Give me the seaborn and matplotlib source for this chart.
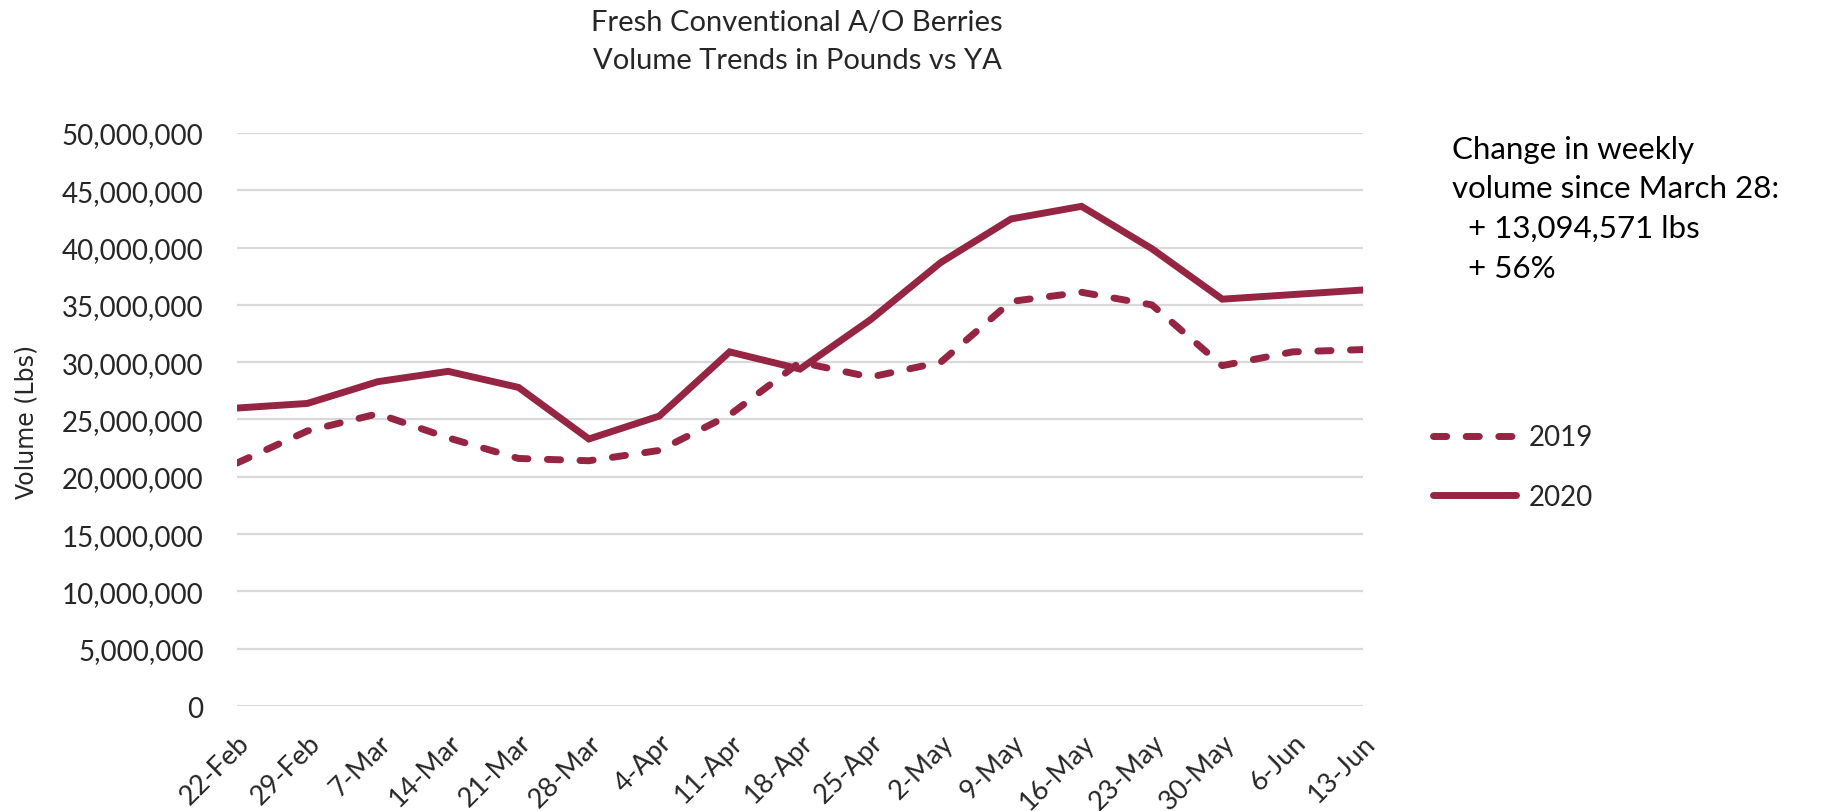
"""Fresh Conventional A/O Berries - weekly volume trends, 2019 vs 2020."""

import matplotlib
matplotlib.use("Agg")

import matplotlib.pyplot as plt
import pandas as pd
import seaborn as sns
from matplotlib.ticker import FuncFormatter


WEEKS = [
    "22-Feb", "29-Feb", "7-Mar", "14-Mar", "21-Mar", "28-Mar", "4-Apr",
    "11-Apr", "18-Apr", "25-Apr", "2-May", "9-May", "16-May", "23-May",
    "30-May", "6-Jun", "13-Jun",
]
VOLUME_2019 = [
    21.2, 24.0, 25.5, 23.4, 21.6, 21.4, 22.3, 25.4, 30.0, 28.7,
    30.0, 35.3, 36.1, 35.0, 29.7, 30.9, 31.1,
]
VOLUME_2020 = [
    26.0, 26.4, 28.3, 29.2, 27.8, 23.3, 25.3, 30.9, 29.4, 33.7,
    38.7, 42.5, 43.6, 39.9, 35.5, 35.9, 36.3,
]
YEARS = ["2019", "2020"]
Y_TICKS = [0, 5, 10, 15, 20, 25, 30, 35, 40, 45, 50]

LINE_COLOR = "#952542"
TEXT_COLOR = "#262626"


def build_dataframe():
    """Long-form table of weekly volume (in pounds) per year."""
    frames = []
    for year, values in zip(YEARS, [VOLUME_2019, VOLUME_2020]):
        frames.append(
            pd.DataFrame(
                {
                    "week": WEEKS,
                    "volume": [v * 1_000_000 for v in values],
                    "year": year,
                }
            )
        )
    return pd.concat(frames, ignore_index=True)


def main():
    sns.set_theme(style="white")
    plt.rcParams["font.family"] = ["Lato", "DejaVu Sans"]

    df = build_dataframe()

    fig = plt.figure(figsize=(18.33, 8.12), dpi=100)
    ax = fig.add_axes([0.1293, 0.1293, 0.6143, 0.7057])

    sns.lineplot(
        data=df,
        x="week",
        y="volume",
        style="year",
        hue="year",
        palette={"2019": LINE_COLOR, "2020": LINE_COLOR},
        dashes={"2019": (1.9, 2.8), "2020": ""},
        linewidth=5,
        sort=False,
        legend=False,
        ax=ax,
    )
    for line in ax.lines:
        line.set_dash_capstyle("round")
        line.set_solid_capstyle("round")
        line.set_solid_joinstyle("miter")

    ax.set_xlim(0, len(WEEKS) - 1)
    ax.set_ylim(0, 50_000_000)
    ax.set_yticks([t * 1_000_000 for t in Y_TICKS])
    ax.yaxis.set_major_formatter(FuncFormatter(lambda v, _: f"{v:,.0f}"))
    ax.grid(axis="y", color="#D9D9D9", linewidth=1.6)
    ax.grid(axis="x", visible=False)
    ax.set_axisbelow(True)
    for spine in ax.spines.values():
        spine.set_visible(False)

    ax.set_xlabel("")
    ax.set_ylabel("")
    ax.tick_params(axis="y", length=0, pad=24, labelsize=20, labelcolor=TEXT_COLOR)
    ax.tick_params(axis="x", length=0, pad=17, labelsize=19.5, labelcolor=TEXT_COLOR)
    for label in ax.get_xticklabels():
        label.set_rotation(45)
        label.set_ha("right")
        label.set_va("top")
        label.set_rotation_mode("anchor")

    # Legend (2019 dashed, 2020 solid)
    fig.legend(
        handles=ax.lines[:2],
        labels=YEARS,
        loc="center left",
        bbox_to_anchor=(1433 / 1833, 1 - 468 / 812),
        frameon=False,
        fontsize=20,
        handlelength=3.0,
        handletextpad=0.45,
        labelspacing=1.2,
        borderpad=0,
        borderaxespad=0,
        labelcolor=TEXT_COLOR,
    )

    fig.text(
        797 / 1833, 1 - 42 / 812,
        "Fresh Conventional A/O Berries\nVolume Trends in Pounds vs YA",
        ha="center", va="center", fontsize=21, linespacing=1.55, color=TEXT_COLOR,
    )
    fig.text(
        27 / 1833, 1 - 422 / 812, "Volume (Lbs)",
        rotation=90, ha="center", va="center", fontsize=17,
        family="DejaVu Sans", color=TEXT_COLOR,
    )
    fig.text(
        1452 / 1833, 1 - 136 / 812,
        "Change in weekly\nvolume since March 28:\n  + 13,094,571 lbs\n  + 56%",
        ha="left", va="top", fontsize=22.5, linespacing=1.5, color="black",
    )

    fig.savefig("out.png", dpi=100)
    plt.close(fig)


if __name__ == "__main__":
    main()
